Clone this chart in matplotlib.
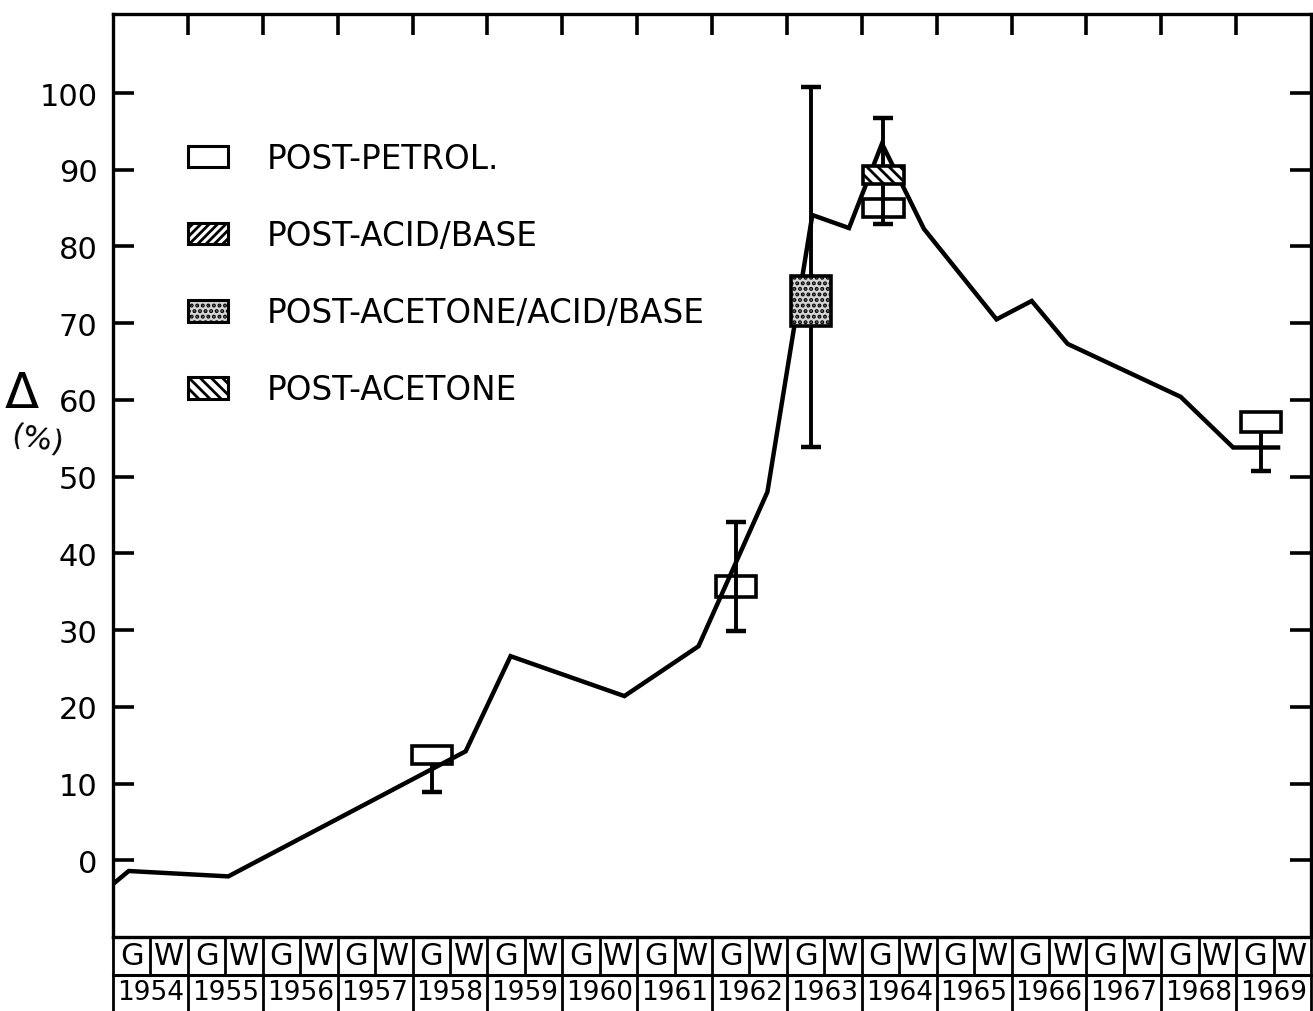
import matplotlib.pyplot as plt
from matplotlib.patches import Patch

plt.rcParams['font.family'] = ['DejaVu Sans']
plt.rcParams['hatch.linewidth'] = 2.0

# curva principal: ano x delta (%)
anos = [1954.0, 1954.21, 1955.54, 1958.71, 1959.31, 1960.83, 1961.82, 1962.74,
        1963.34, 1963.83, 1964.27, 1964.83, 1965.80, 1966.27, 1966.75, 1968.26,
        1968.96, 1969.56]
delta = [-3.1, -1.4, -2.1, 14.2, 26.6, 21.4, 27.9, 48.0,
         84.1, 82.4, 93.4, 82.3, 70.5, 72.9, 67.3, 60.4,
         53.8, 53.8]

# caixas (tratamento, posicao, limites)
caixa_tipo = ['petrol', 'petrol', 'acetone_acid_base', 'acetone', 'petrol', 'petrol']
caixa_x = [1958.26, 1962.32, 1963.32, 1964.29, 1964.29, 1969.33]
caixa_min = [12.5, 34.3, 69.6, 88.1, 83.8, 55.8]
caixa_max = [14.9, 37.0, 76.1, 90.5, 86.2, 58.4]

# barras de erro
barra_x = [1958.26, 1962.32, 1963.32, 1964.29, 1969.33]
barra_min = [8.9, 29.9, 53.8, 82.9, 50.7]
barra_max = [12.5, 44.1, 100.8, 96.7, 55.8]
barra_cap_sup = [False, True, True, True, False]

legenda = {
    'petrol': 'POST-PETROL.',
    'acid_base': 'POST-ACID/BASE',
    'acetone_acid_base': 'POST-ACETONE/ACID/BASE',
    'acetone': 'POST-ACETONE',
}
estilo = {
    'petrol': dict(facecolor='none', hatch=None),
    'acid_base': dict(facecolor='white', hatch='////'),
    'acetone_acid_base': dict(facecolor='#d4d4d4', hatch='...'),
    'acetone': dict(facecolor='white', hatch='\\\\\\'),
}

anos_eixo = list(range(1954, 1970))
yticks = list(range(0, 101, 10))

W, H = 1313, 1012
fig = plt.figure(figsize=(W / 100, H / 100), dpi=100)
x0, x1 = 113 / W, 1311 / W
y_base, y_topo = 938, 15
ax = fig.add_axes([x0, 1 - y_base / H, x1 - x0, (y_base - y_topo) / H])

ax.plot(anos, delta, color='black', lw=3.2, solid_joinstyle='miter', zorder=3)

for tipo, x, lo, hi in zip(caixa_tipo, caixa_x, caixa_min, caixa_max):
    ax.bar(x, hi - lo, bottom=lo, width=0.54, edgecolor='black', lw=2.6,
           zorder=4, **estilo[tipo])

ax.vlines(barra_x, barra_min, barra_max, color='black', lw=2.8, zorder=3)
ax.plot(barra_x, barra_min, '_', ms=15, mew=3.2, color='black', zorder=3)
ax.plot([x for x, c in zip(barra_x, barra_cap_sup) if c],
        [y for y, c in zip(barra_max, barra_cap_sup) if c],
        '_', ms=15, mew=3.2, color='black', zorder=3)

ax.set_xlim(1954, 1970)
ax.set_ylim(-10, 110.3)
ax.set_xticks(anos_eixo[1:])
ax.set_yticks(yticks)
ax.tick_params(axis='x', top=True, bottom=False, labelbottom=False,
               direction='in', length=15, width=2.6)
ax.tick_params(axis='y', left=True, right=True, direction='in', length=15,
               width=2.6, labelsize=22, pad=11)
for s in ax.spines.values():
    s.set_linewidth(2.4)

handles = [Patch(edgecolor='black', lw=2.2, label=legenda[k], **estilo[k])
           for k in ['petrol', 'acid_base', 'acetone_acid_base', 'acetone']]
ax.legend(handles=handles, loc='upper left', bbox_to_anchor=(0.0626, 0.861),
          frameon=False, fontsize=23.5, handlelength=1.22, handleheight=0.62,
          handletextpad=1.2, labelspacing=1.35, borderpad=0, borderaxespad=0)

# eixo y: delta (%)
fig.text(22 / W, 1 - 394 / H, '\u0394', fontsize=36, ha='center', va='center')
fig.text(37 / W, 1 - 440 / H, '(%)', fontsize=22, ha='center', va='center',
         rotation=-10)

# tabela de semestres / anos
axt = fig.add_axes([x0, -2 / H, x1 - x0, 76 / H])
axt.set_xlim(1954, 1970)
axt.set_ylim(0, 2)
axt.axis('off')
axt.plot([1954, 1970], [1, 1], color='black', lw=2.2, clip_on=False)
for i in range(len(anos_eixo) * 2 + 1):
    x = 1954 + i * 0.5
    axt.plot([x, x], [1, 2], color='black', lw=2.0, clip_on=False)
    if i < len(anos_eixo) * 2:
        axt.text(x + 0.25, 1.5, 'GW'[i % 2], fontsize=22, ha='center',
                 va='center')
for j, ano in enumerate(anos_eixo + [1970]):
    axt.plot([ano, ano], [0, 1], color='black', lw=2.0, clip_on=False)
    if ano < 1970:
        axt.text(ano + 0.5, 0.55, str(ano), fontsize=19, ha='center',
                 va='center')

fig.savefig('out.png', dpi=100)
